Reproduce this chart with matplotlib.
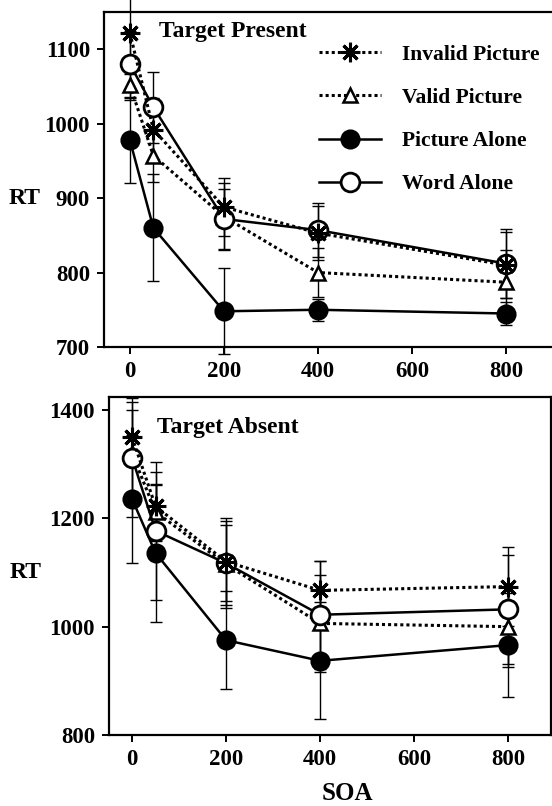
import numpy as np
import matplotlib
matplotlib.use("Agg")
import matplotlib.pyplot as plt
from matplotlib.lines import Line2D

plt.rcParams['font.family'] = ['Liberation Serif', 'DejaVu Serif']
plt.rcParams['font.weight'] = 'bold'

soa = [0, 50, 200, 400, 800]

# Target present: mean RT and error per condition
present_invalid = [1122, 992, 888, 853, 810]
present_invalid_err = [55, 42, 39, 36, 44]
present_valid = [1052, 957, 875, 800, 787]
present_valid_err = [20, 36, 45, 33, 43]
present_picture = [978, 860, 748, 750, 745]
present_picture_err = [58, 72, 58, 15, 15]
present_word = [1080, 1022, 872, 857, 812]
present_word_err = [45, 48, 40, 36, 46]

# Target absent
absent_invalid = [1350, 1222, 1120, 1067, 1074]
absent_invalid_err = [50, 64, 80, 54, 73]
absent_valid = [1320, 1212, 1115, 1006, 1000]
absent_valid_err = [95, 50, 80, 90, 75]
absent_picture = [1236, 1136, 975, 937, 966]
absent_picture_err = [118, 127, 90, 108, 96]
absent_word = [1312, 1177, 1117, 1022, 1032]
absent_word_err = [110, 127, 70, 100, 100]

series_labels = ["Invalid Picture", "Valid Picture", "Picture Alone", "Word Alone"]

dotted = (0, (1, 1))
styles = {
    "Invalid Picture": dict(ls=dotted, lw=2.2, marker=(8, 2, 0), ms=14, mfc='black', mec='black', mew=2.2),
    "Valid Picture": dict(ls=dotted, lw=2.2, marker='^', ms=10, mfc='white', mec='black', mew=1.8),
    "Picture Alone": dict(ls='-', lw=1.8, marker='o', ms=13, mfc='black', mec='black', mew=1.5),
    "Word Alone": dict(ls='-', lw=1.8, marker='o', ms=13.5, mfc='white', mec='black', mew=2),
}
draw_order = ["Picture Alone", "Valid Picture", "Word Alone", "Invalid Picture"]


def draw_panel(ax, data, title, title_pos, clip_bars=True):
    for name in draw_order:
        y, err = data[name]
        bars = ax.errorbar(soa, y, yerr=err, fmt='none', ecolor='black', elinewidth=1.0,
                           capsize=4.5, capthick=1.0, zorder=1)
        if not clip_bars:
            for artist in bars.lines[1] + bars.lines[2]:
                artist.set_clip_on(False)
    for name in draw_order:
        y, err = data[name]
        ax.plot(soa, y, color='black', zorder=3, **styles[name])
    ax.text(title_pos[0], title_pos[1], title, transform=ax.transAxes,
            fontsize=17, fontweight='bold', va='center', ha='left')
    ax.set_xticks([0, 200, 400, 600, 800])
    ax.tick_params(direction='out', length=5, width=1.4, labelsize=16.5, pad=5)
    for s in ax.spines.values():
        s.set_linewidth(1.6)


fig = plt.figure(figsize=(5.52, 8.06), dpi=100)

# top panel runs past the right edge of the figure
ax1 = fig.add_axes([104 / 552, 1 - 347 / 806, 452 / 552, 335 / 806])
draw_panel(ax1, {
    "Invalid Picture": (present_invalid, present_invalid_err),
    "Valid Picture": (present_valid, present_valid_err),
    "Picture Alone": (present_picture, present_picture_err),
    "Word Alone": (present_word, present_word_err),
}, "Target Present", (0.122, 0.943), clip_bars=False)
ax1.set_xlim(-55, 906)
ax1.set_ylim(700, 1150)
ax1.set_yticks([700, 800, 900, 1000, 1100])

handles = [Line2D([], [], color='black', **styles[n]) for n in series_labels]
ax1.legend(handles, series_labels, loc='upper left', bbox_to_anchor=(0.476, 0.902),
           frameon=False, fontsize=15.5, handlelength=2.85, handletextpad=1.0,
           labelspacing=1.07, borderpad=0, borderaxespad=0)
ax1.text(-0.212, (900 - 700) / 450, "RT", transform=ax1.transAxes,
         fontsize=17, fontweight='bold', va='center', ha='left')

ax2 = fig.add_axes([109 / 552, 1 - 735 / 806, 442 / 552, 338 / 806])
draw_panel(ax2, {
    "Invalid Picture": (absent_invalid, absent_invalid_err),
    "Valid Picture": (absent_valid, absent_valid_err),
    "Picture Alone": (absent_picture, absent_picture_err),
    "Word Alone": (absent_word, absent_word_err),
}, "Target Absent", (0.109, 0.911))
ax2.set_xlim(-49, 891)
ax2.set_ylim(800, 1424)
ax2.set_yticks([800, 1000, 1200, 1400])
ax2.text(-0.225, (1100 - 800) / 624, "RT", transform=ax2.transAxes,
         fontsize=17, fontweight='bold', va='center', ha='left')

fig.text(347 / 552, 1.5 / 806, "SOA", fontsize=18, fontweight='bold',
         ha='center', va='bottom')

fig.savefig("out.png", dpi=100)
